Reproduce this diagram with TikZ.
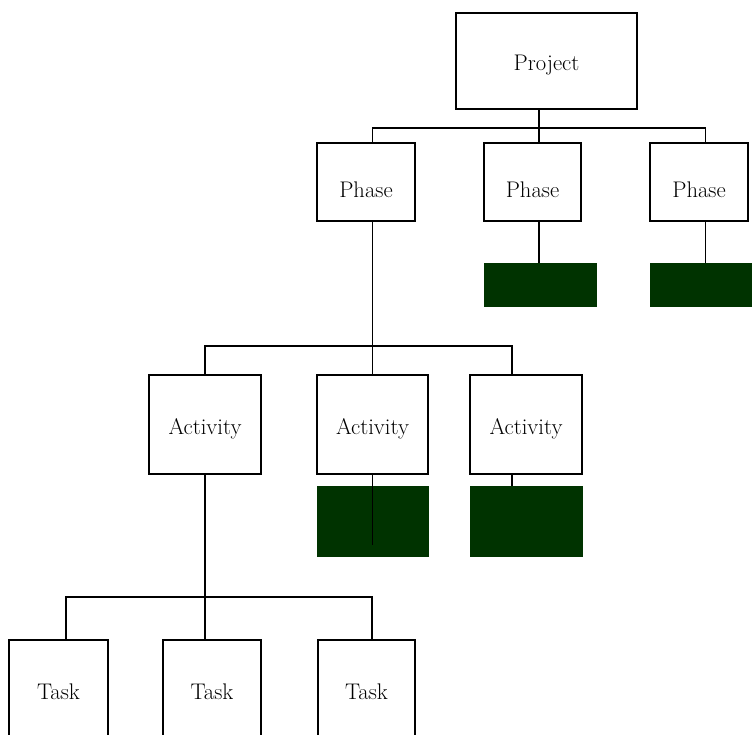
\documentclass[tikz,border=0pt]{standalone}
\usepackage{tikz}
\usetikzlibrary{positioning, calc}
\definecolor{leafgreen}{HTML}{003300}

\begin{document}
\begin{tikzpicture}[
    x=1pt, y=-1pt,
    wbs/.style={draw, line width=1.3pt, inner sep=0pt, text depth=0pt, font=\fontsize{22.6}{26}\selectfont},
    hidden/.style={fill=leafgreen, draw=leafgreen, line width=1pt, inner sep=0pt},
    link/.style={line width=1.3pt},
]
\clip (0,0) rectangle (752,734);

% top level
\node[wbs, minimum width=181pt, minimum height=96pt, text height=19pt] (project) at (546.5,61) {Project};

% phases
\node[wbs, minimum width=98pt, minimum height=78pt, text height=31pt] (phaseA) at (366,182) {Phase};
\node[wbs, minimum width=97pt, minimum height=78pt, text height=31pt] (phaseB) at (532.5,182) {Phase};
\node[wbs, minimum width=98pt, minimum height=78pt, text height=31pt] (phaseC) at (699,182) {Phase};
\node[hidden, minimum width=112pt, minimum height=43pt] (greenB) at (540,284.5) {};
\node[hidden, minimum width=112pt, minimum height=43pt] (greenC) at (706,284.5) {};

% activities
\node[wbs, minimum width=112pt, minimum height=99pt, text height=20pt] (actA) at (205,424.5) {Activity};
\node[wbs, minimum width=111pt, minimum height=99pt, text height=20pt] (actB) at (372.5,424.5) {Activity};
\node[wbs, minimum width=112pt, minimum height=99pt, text height=20pt] (actC) at (526,424.5) {Activity};
\node[hidden, minimum width=111pt, minimum height=70pt] (greenActB) at (372.5,521) {};
\node[hidden, minimum width=112pt, minimum height=70pt] (greenActC) at (526,521) {};

% tasks
\node[wbs, minimum width=99pt, minimum height=104pt, text height=15pt] (taskA) at (58.5,692) {Task};
\node[wbs, minimum width=98pt, minimum height=104pt, text height=15pt] (taskB) at (212,692) {Task};
\node[wbs, minimum width=97pt, minimum height=104pt, text height=15pt] (taskC) at (366.5,692) {Task};

\coordinate (topbus) at (0,128);
\coordinate (midbus) at (0,346);
\coordinate (lowbus) at (0,597);

% project -> phases
\draw[link] ([xshift=-7.5]project.south) -- ([xshift=6.5]phaseB.north);
\draw[link] ([xshift=6.5]phaseA.north) -- ([xshift=6.5]phaseA.north |- topbus)
    -- ([xshift=6.5]phaseC.north |- topbus) -- ([xshift=6.5]phaseC.north);
\draw[link] ([xshift=6.5]phaseB.south) -- ([xshift=6.5]phaseB.south |- greenB.north);
\draw[link] ([xshift=6.5]phaseC.south) -- ([xshift=6.5]phaseC.south |- greenC.north);

% phase -> activities
\draw[link] ([xshift=6.5]phaseA.south) -- (actB.north);
\draw[link] (actA.north) -- (actA.north |- midbus)
    -- ([xshift=-14]actC.north |- midbus) -- ([xshift=-14]actC.north);
\draw[link] (actB.south) -- ([yshift=12]greenActB.south);
\draw[link] ([xshift=-14]actC.south) -- ([xshift=-14]greenActC.north);

% activity -> tasks
\draw[link] (actA.south) -- (actA.south |- taskB.north);
\draw[link] ([xshift=7.5]taskA.north) -- ([xshift=7.5]taskA.north |- lowbus)
    -- ([xshift=5.5]taskC.north |- lowbus) -- ([xshift=5.5]taskC.north);

\end{tikzpicture}
\end{document}
